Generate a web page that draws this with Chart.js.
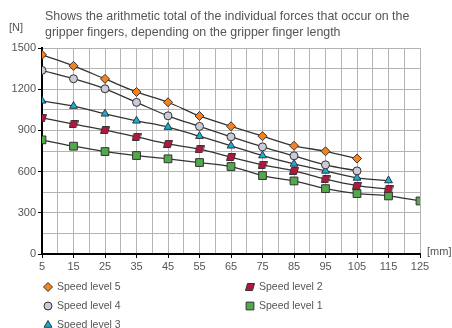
<!DOCTYPE html>
<html>
<head>
<meta charset="utf-8">
<script src="https://cdn.jsdelivr.net/npm/chart.js@4.4.0/dist/chart.umd.min.js"></script>
<style>
  html, body { margin: 0; padding: 0; background: #fff; }
  #wrap { width: 452px; height: 328px; position: relative; }
</style>
</head>
<body>
<div id="wrap"><canvas id="forceChart" width="452" height="328"></canvas></div>
<script>
// finger length [mm]
const lengths = [5, 15, 25, 35, 45, 55, 65, 75, 85, 95, 105, 115, 125];

// force [N] per speed level
const speed5 = [1450, 1370, 1275, 1180, 1105, 1005, 930, 858, 788, 748, 695];
const speed4 = [1337, 1276, 1203, 1104, 1006, 929, 853, 780, 715, 649, 605];
const speed3 = [1115, 1077, 1021, 970, 924, 858, 788, 717, 656, 605, 554, 535];
const speed2 = [992, 946, 902, 853, 802, 763, 705, 649, 605, 545, 498, 472];
const speed1 = [831, 785, 746, 717, 693, 666, 637, 571, 532, 476, 440, 423, 386];

const yTicks = [0, 300, 600, 900, 1200, 1500];
const xTicks = [5, 15, 25, 35, 45, 55, 65, 75, 85, 95, 105, 115, 125];

const titleLines = [
    'Shows the arithmetic total of the individual forces that occur on the',
    'gripper fingers, depending on the gripper finger length'
];

const textColor = '#555';
const fontFamily = '"Liberation Sans", Arial, sans-serif';

// parallelogram marker for speed level 2
function makeParallelogram() {
    const c = document.createElement('canvas');
    c.width = 10; c.height = 8;
    const g = c.getContext('2d');
    g.beginPath();
    g.moveTo(2.5, 0.5);
    g.lineTo(9.5, 0.5);
    g.lineTo(7.5, 7.5);
    g.lineTo(0.5, 7.5);
    g.closePath();
    g.fillStyle = '#b3173f';
    g.fill();
    g.strokeStyle = '#333';
    g.lineWidth = 1;
    g.stroke();
    return c;
}
const paraImg = makeParallelogram();

function toPoints(values) {
    return values.map((v, i) => ({ x: lengths[i], y: v }));
}

function series(label, values, style, fill, radius) {
    return {
        label: label,
        data: toPoints(values),
        borderColor: '#333',
        borderWidth: 1.3,
        pointStyle: style,
        pointRadius: radius,
        pointBackgroundColor: fill,
        pointBorderColor: '#333',
        pointBorderWidth: 1,
        cubicInterpolationMode: 'monotone',
        fill: false
    };
}

const datasets = [
    series('Speed level 5', speed5, 'rectRot', '#f5821f', 4.5),
    series('Speed level 4', speed4, 'circle', '#cacad8', 4),
    series('Speed level 3', speed3, 'triangle', '#14afdc', 4.5),
    series('Speed level 2', speed2, paraImg, '#b3173f', 4),
    series('Speed level 1', speed1, 'rect', '#52a84a', 5.5)
];

// legend layout: [dataset index, column, row]
const legendSlots = [[0, 0, 0], [1, 0, 1], [2, 0, 2], [3, 1, 0], [4, 1, 1]];

const extrasPlugin = {
    id: 'extras',
    afterDraw(chart) {
        const ctx = chart.ctx;
        ctx.save();
        ctx.fillStyle = textColor;
        ctx.textBaseline = 'middle';
        ctx.textAlign = 'left';
        ctx.font = '12.4px ' + fontFamily;
        ctx.fillText(titleLines[0], 45, 17);
        ctx.fillText(titleLines[1], 45, 33);
        ctx.font = '11px ' + fontFamily;
        ctx.fillText('[N]', 9, 28);
        ctx.fillText('[mm]', 427, 252);

        // legend
        ctx.font = '10.5px ' + fontFamily;
        legendSlots.forEach(([di, col, row]) => {
            const ds = datasets[di];
            const mx = col === 0 ? 48 : 250;
            const my = 287 + row * 19;
            ctx.fillStyle = ds.pointBackgroundColor;
            ctx.strokeStyle = '#333';
            ctx.lineWidth = 1;
            Chart.helpers.drawPoint(ctx, {
                pointStyle: ds.pointStyle,
                radius: ds.pointRadius,
                rotation: 0,
                borderWidth: 1
            }, mx, my);
            ctx.fillStyle = textColor;
            ctx.fillText(ds.label, mx + 9, my);
        });
        ctx.restore();
    }
};

new Chart(document.getElementById('forceChart'), {
    type: 'line',
    data: { datasets: datasets },
    plugins: [extrasPlugin],
    options: {
        responsive: false,
        animation: false,
        layout: { padding: { left: 0, top: 48, right: 32, bottom: 0 } },
        plugins: {
            legend: { display: false },
            tooltip: { enabled: false }
        },
        scales: {
            x: {
                type: 'linear',
                min: 5,
                max: 125,
                afterFit: (scale) => { scale.height = 74; },
                afterBuildTicks: (scale) => {
                    const t = [];
                    for (let v = 5; v <= 125; v += 5) t.push({ value: v });
                    scale.ticks = t;
                },
                ticks: {
                    autoSkip: false,
                    maxRotation: 0,
                    color: textColor,
                    font: { size: 11, family: fontFamily },
                    padding: 2,
                    callback: (v) => xTicks.includes(v) ? String(v) : ''
                },
                grid: {
                    color: '#b4b4b4',
                    lineWidth: 1,
                    tickLength: 4,
                    tickColor: (c) => xTicks.includes(c.tick && c.tick.value) ? '#000' : 'rgba(0,0,0,0)'
                },
                border: { color: '#000', width: 2 }
            },
            y: {
                min: 0,
                max: 1500,
                afterFit: (scale) => { scale.width = 42; },
                afterBuildTicks: (scale) => {
                    const t = [];
                    for (let v = 0; v <= 1500; v += 150) t.push({ value: v });
                    scale.ticks = t;
                },
                ticks: {
                    autoSkip: false,
                    color: textColor,
                    font: { size: 11, family: fontFamily },
                    padding: 2,
                    callback: (v) => yTicks.includes(v) ? String(v) : ''
                },
                grid: {
                    color: '#b4b4b4',
                    lineWidth: 1,
                    tickLength: 4,
                    tickColor: (c) => yTicks.includes(c.tick && c.tick.value) ? '#000' : 'rgba(0,0,0,0)'
                },
                border: { color: '#000', width: 2 }
            }
        }
    }
});
</script>
</body>
</html>
